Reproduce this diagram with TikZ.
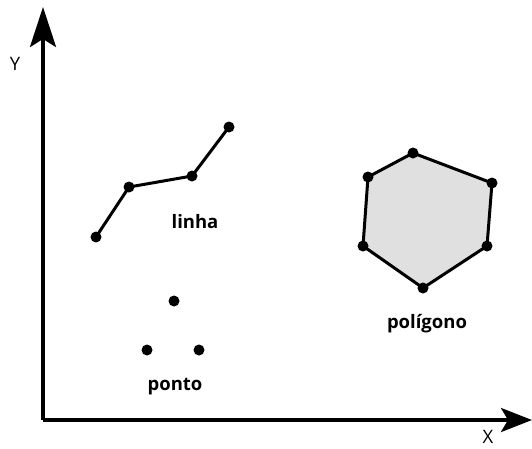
\documentclass[tikz,border=0pt]{standalone}
\usepackage{fontspec}
\setmainfont{Open Sans}
\usetikzlibrary{arrows.meta}
\begin{document}
\begin{tikzpicture}[x=1pt,y=-1pt,
  axis/.style={line width=3.5pt},
  seg/.style={line width=3pt, line join=round},
  pt/.style={circle, fill=black, inner sep=0pt, minimum size=11pt},
  lbl/.style={font=\bfseries\fontsize{18.5}{22}\selectfont, inner sep=0pt},
  axlbl/.style={font=\fontsize{18.5}{22}\selectfont, inner sep=0pt}]
\useasboundingbox (0,0) rectangle (532,448);
% axes
\coordinate (O) at (43,420);
\coordinate (Ytip) at (43,7);
\coordinate (Xtip) at (532,420);
\draw[axis, -{Stealth[length=40pt,width=26pt,inset=8pt]}] (O) -- (Ytip);
\draw[axis, -{Stealth[length=31pt,width=24pt,inset=7pt]}] (O) -- (Xtip);
\node[axlbl] (ylab) at (15,64) {Y};
\node[axlbl] (xlab) at (488,437) {X};
% line
\node[pt] (l1) at (96,237) {};
\node[pt] (l2) at (129,187) {};
\node[pt] (l3) at (192,176) {};
\node[pt] (l4) at (229,127) {};
\draw[seg] (l1.center) -- (l2.center) -- (l3.center) -- (l4.center);
\node[lbl] (linha) at (195,222) {linha};
% polygon
\coordinate (p1) at (413,153);
\coordinate (p2) at (492,183);
\coordinate (p3) at (487,246);
\coordinate (p4) at (423,288);
\coordinate (p5) at (363,246);
\coordinate (p6) at (368,177);
\draw[seg, fill=black!12] (p1) -- (p2) -- (p3) -- (p4) -- (p5) -- (p6) -- cycle;
\foreach \p in {p1,p2,p3,p4,p5,p6} \node[pt] at (\p) {};
\node[lbl] (poli) at (427,324) {polígono};
% points
\node[pt] (d1) at (174,301) {};
\node[pt] (d2) at (147,350) {};
\node[pt] (d3) at (199,350) {};
\node[lbl] (ponto) at (175,387) {ponto};
\end{tikzpicture}
\end{document}
